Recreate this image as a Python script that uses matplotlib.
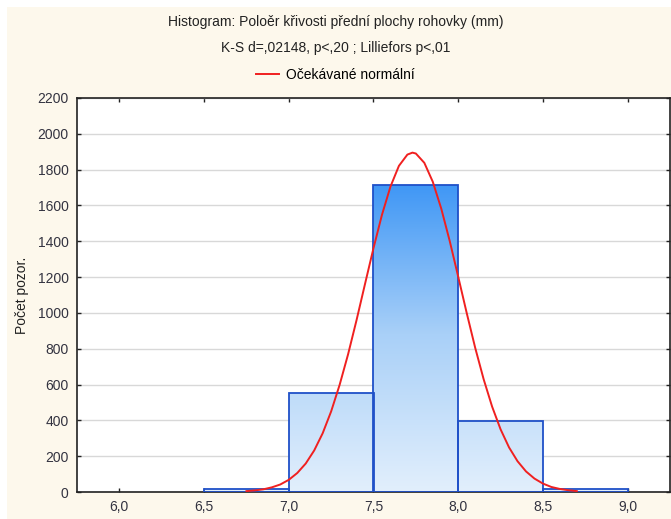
import matplotlib.pyplot as plt
import numpy as np
from matplotlib.colors import LinearSegmentedColormap
from matplotlib.patches import Rectangle

# histogram bins (left edges, width 0.5) and counts
bin_left = [6.5, 7.0, 7.5, 8.0, 8.5]
counts = [15, 552, 1712, 397, 15]

# expected normal curve
curve_x = [6.75, 6.80, 6.85, 6.90, 6.95, 7.00, 7.05, 7.10, 7.15, 7.20,
           7.25, 7.30, 7.35, 7.40, 7.45, 7.50, 7.55, 7.60, 7.65, 7.70,
           7.73, 7.75, 7.80, 7.85, 7.90, 7.95, 8.00, 8.05, 8.10, 8.15,
           8.20, 8.25, 8.30, 8.35, 8.40, 8.45, 8.50, 8.55, 8.60, 8.65, 8.70]
curve_y = [5, 9, 15, 26, 42, 68, 106, 159, 232, 328,
           450, 598, 769, 960, 1162, 1362, 1548, 1705, 1821, 1884,
           1895, 1890, 1838, 1732, 1582, 1401, 1202, 1000, 806, 630,
           477, 350, 249, 172, 115, 75, 47, 28, 17, 10, 5]

x_ticks = [6.0, 6.5, 7.0, 7.5, 8.0, 8.5, 9.0]
y_ticks = list(range(0, 2201, 200))

plt.rcParams["font.family"] = ["Liberation Sans", "DejaVu Sans"]

fig = plt.figure(figsize=(6.71, 5.19), dpi=100, facecolor="white")
# cream panel behind everything
fig.patches.append(Rectangle((7 / 671, 0), 1, 1 - 7 / 519, transform=fig.transFigure,
                             facecolor="#FDF8EC", edgecolor="none", zorder=-10))

ax = fig.add_axes([77 / 671, 1 - 492 / 519, (670 - 77) / 671, (492 - 98) / 519])
ax.set_facecolor("white")

cmap = LinearSegmentedColormap.from_list("bars", ["#E2EFFC", "#A9D0F8", "#3A94F5"])
grad = np.linspace(0, 1, 256).reshape(-1, 1)
width = 0.5
for left, c in zip(bin_left, counts):
    rect = Rectangle((left, 0), width, c, facecolor="none", edgecolor="#1F50C8",
                     linewidth=1.3, zorder=3)
    ax.add_patch(rect)
    im = ax.imshow(grad, cmap=cmap, origin="lower", aspect="auto",
                   extent=(5.75, 9.25, 0, 1760), zorder=2)
    im.set_clip_path(rect)

ax.plot(curve_x, curve_y, color="#F02020", linewidth=1.4, zorder=4,
        label="Očekávané normální")

ax.set_xlim(5.75, 9.25)
ax.set_ylim(0, 2200)
ax.set_xticks(x_ticks)
ax.set_xticklabels([f"{v:.1f}".replace(".", ",") for v in x_ticks])
ax.set_yticks(y_ticks)
ax.grid(axis="y", color="#D8D8D8", linewidth=1.0, zorder=0)
ax.set_axisbelow(True)
ax.tick_params(direction="in", length=3, width=1, top=True, right=True,
               labelsize=10, labelcolor="#333340", colors="#222222")
ax.tick_params(axis="x", pad=6)
ax.tick_params(axis="y", pad=6)
for s in ax.spines.values():
    s.set_linewidth(1.2)
    s.set_color("#222222")

ax.set_ylabel("Počet pozor.", fontsize=10, color="#222222", labelpad=6)

fig.text(0.5, 1 - 22 / 519, "Histogram: Poloěr křivosti přední plochy rohovky (mm)",
         ha="center", va="center", fontsize=10, color="#222222")
fig.text(0.5, 1 - 48 / 519, "K-S d=,02148, p<,20 ; Lilliefors p<,01",
         ha="center", va="center", fontsize=10, color="#222222")
fig.legend(loc="center", bbox_to_anchor=(0.5, 1 - 75 / 519), frameon=False,
           fontsize=10, handlelength=1.66, handletextpad=0.5)

fig.savefig("out.png", dpi=100, facecolor=fig.get_facecolor())
